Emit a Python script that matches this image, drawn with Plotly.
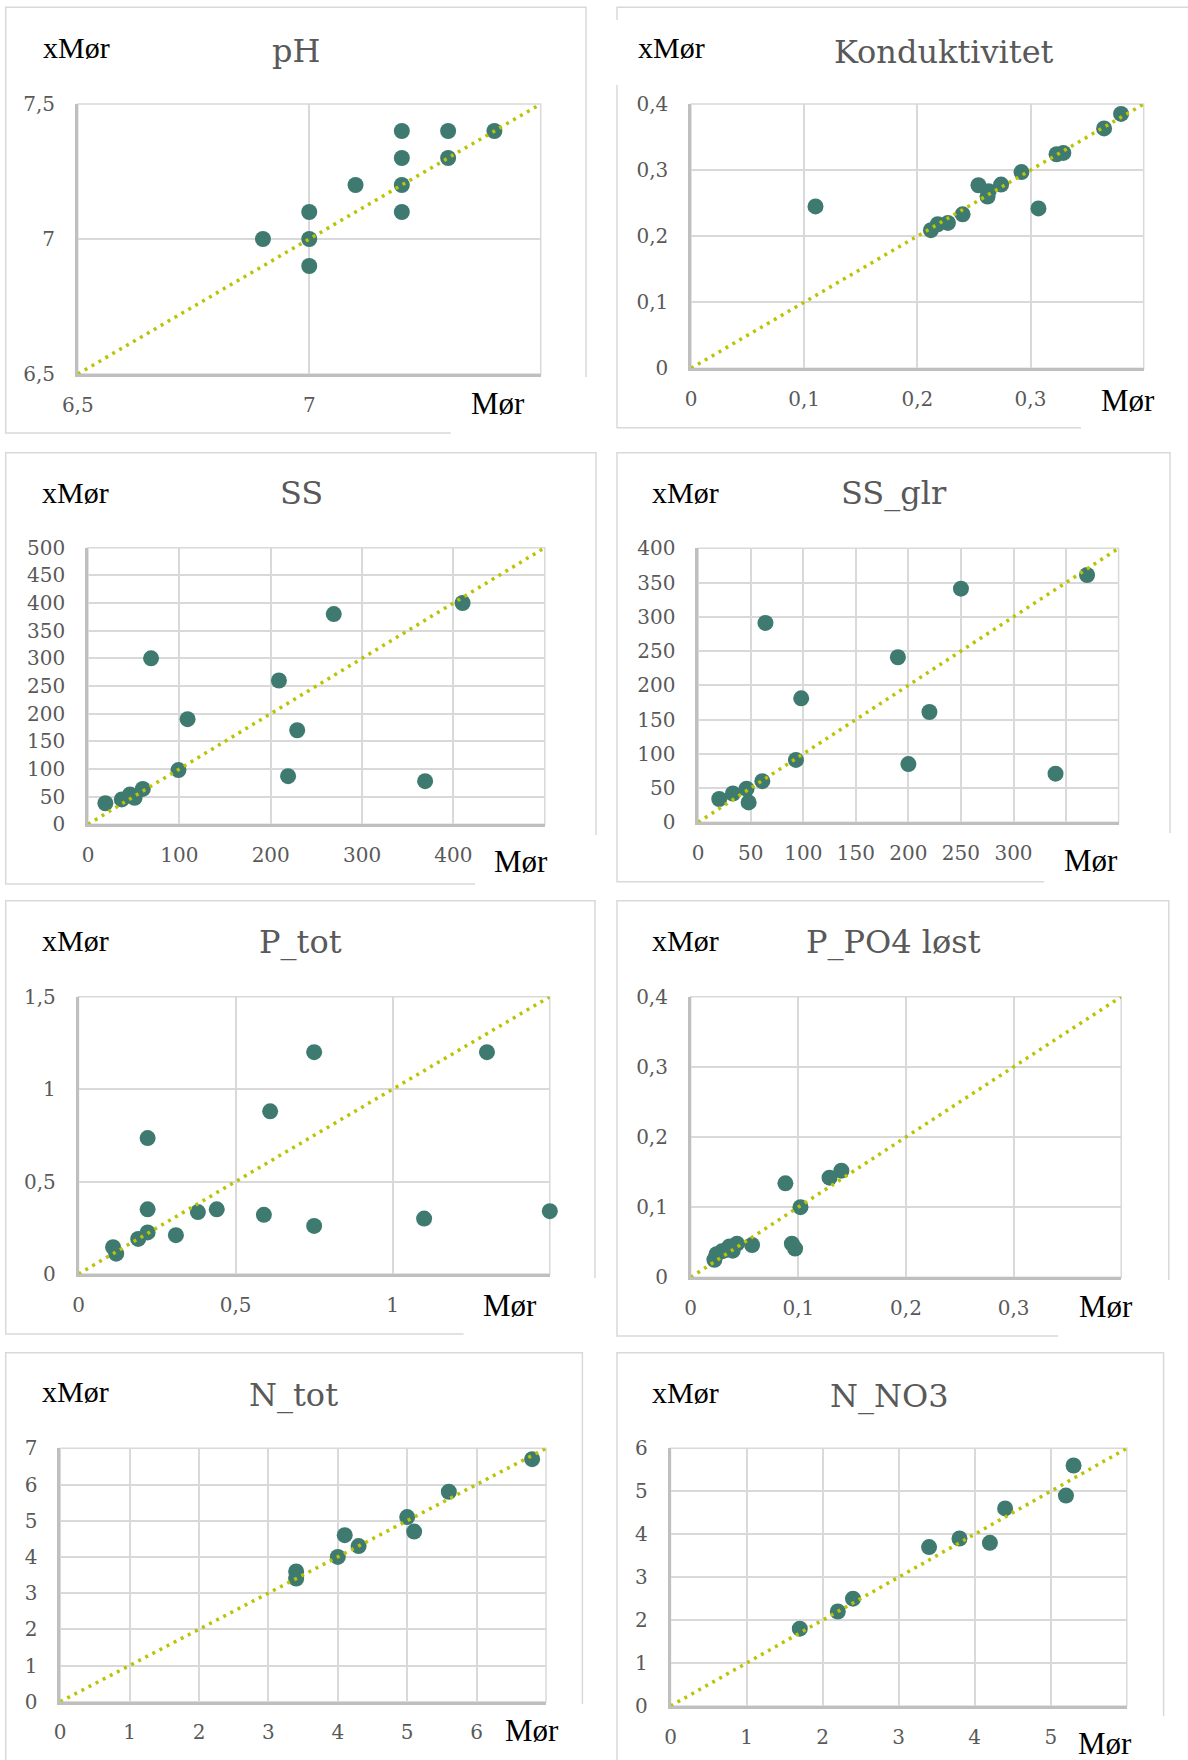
import plotly.graph_objects as go

W, H = 1188, 1760

# ---------------- data (Mør on x, xMør on y) ----------------
ph_mor = [6.9, 7.0, 7.0, 7.0, 7.1, 7.2, 7.2, 7.2, 7.2, 7.3, 7.3, 7.4]
ph_xmor = [7.0, 7.1, 7.0, 6.9, 7.2, 7.4, 7.3, 7.2, 7.1, 7.4, 7.3, 7.4]
ph_ticks = [6.5, 7.0, 7.5]

kond_mor = [0.110, 0.212, 0.218, 0.227, 0.240, 0.254, 0.262, 0.263, 0.274,
            0.292, 0.307, 0.323, 0.329, 0.365, 0.380]
kond_xmor = [0.245, 0.209, 0.218, 0.220, 0.233, 0.277, 0.260, 0.268, 0.278,
             0.297, 0.242, 0.324, 0.326, 0.363, 0.385]
kond_ticks = [0, 0.1, 0.2, 0.3, 0.4]

ss_mor = [19, 37, 46, 51, 60, 69, 99, 109, 209, 219, 229, 269, 369, 410]
ss_xmor = [38, 45, 54, 48, 64, 300, 98, 190, 260, 87, 170, 380, 78, 400]
ss_xticks = [0, 100, 200, 300, 400, 500]
ss_yticks = [0, 50, 100, 150, 200, 250, 300, 350, 400, 450, 500]

ssg_mor = [20, 33, 46, 48, 61, 64, 93, 98, 190, 200, 220, 250, 340, 370]
ssg_xmor = [34, 42, 49, 29, 60, 291, 91, 181, 241, 85, 161, 341, 71, 361]
ssg_ticks = [0, 50, 100, 150, 200, 250, 300, 350, 400]

ptot_mor = [0.11, 0.12, 0.19, 0.22, 0.22, 0.22, 0.31, 0.38, 0.44, 0.59,
            0.61, 0.75, 0.75, 1.10, 1.30, 1.50]
ptot_xmor = [0.145, 0.11, 0.19, 0.225, 0.35, 0.735, 0.21, 0.335, 0.35, 0.32,
             0.88, 1.20, 0.26, 0.30, 1.20, 0.34]
ptot_ticks = [0, 0.5, 1.0, 1.5]

po4_mor = [0.022, 0.024, 0.029, 0.033, 0.036, 0.039, 0.043, 0.057, 0.088,
           0.094, 0.097, 0.102, 0.129, 0.140]
po4_xmor = [0.025, 0.033, 0.037, 0.039, 0.044, 0.038, 0.048, 0.046, 0.134,
            0.048, 0.041, 0.100, 0.142, 0.152]
po4_ticks = [0, 0.1, 0.2, 0.3, 0.4]

ntot_mor = [3.4, 3.4, 4.0, 4.1, 4.3, 5.0, 5.1, 5.6, 6.8]
ntot_xmor = [3.6, 3.4, 4.0, 4.6, 4.3, 5.1, 4.7, 5.8, 6.7]
ntot_ticks = [0, 1, 2, 3, 4, 5, 6, 7]

nno3_mor = [1.7, 2.2, 2.4, 3.4, 3.8, 4.2, 4.4, 5.2, 5.3]
nno3_xmor = [1.8, 2.2, 2.5, 3.7, 3.9, 3.8, 4.6, 4.9, 5.6]
nno3_ticks = [0, 1, 2, 3, 4, 5, 6]

titles = ["pH", "Konduktivitet", "SS", "SS_glr", "P_tot", "P_PO4 løst", "N_tot", "N_NO3"]
x_label = "Mør"
y_label = "xMør"

# ---------------- layout geometry (pixels) ----------------
panels = [
    dict(x=ph_mor, y=ph_xmor, xt=ph_ticks, yt=ph_ticks, hide=1,
         plot=(77.8, 104, 540.7, 374), border=(5.7, 7.3, 586, 433), cover=(450.7, 377),
         tpos=(295.6, 51), ypos=(76, 47.5), xpos=(497.5, 403)),
    dict(x=kond_mor, y=kond_xmor, xt=kond_ticks, yt=kond_ticks, hide=1,
         plot=(691, 104, 1143.7, 368.3), border=(617, 7.3, 1195, 427.7), cover=(1081, 390),
         tpos=(944, 51.7), ypos=(671, 47.5), xpos=(1128, 400)),
    dict(x=ss_mor, y=ss_xmor, xt=ss_xticks, yt=ss_yticks, hide=1,
         plot=(88, 547.7, 544.8, 824.3), border=(5.7, 452.7, 596, 884), cover=(475, 835),
         tpos=(301.5, 493), ypos=(75.5, 492), xpos=(521, 861)),
    dict(x=ssg_mor, y=ssg_xmor, xt=ssg_ticks, yt=ssg_ticks, hide=2,
         plot=(698.2, 548.3, 1118.6, 822.3), border=(617, 452.7, 1170, 881.7), cover=(1044, 833),
         tpos=(893.7, 493), ypos=(685, 492), xpos=(1091, 860.7)),
    dict(x=ptot_mor, y=ptot_xmor, xt=ptot_ticks, yt=ptot_ticks, hide=1,
         plot=(78.5, 996.7, 549.8, 1274), border=(5.7, 900.7, 595, 1334), cover=(463.6, 1278),
         tpos=(300.8, 942), ypos=(75.5, 940), xpos=(509.6, 1305)),
    dict(x=po4_mor, y=po4_xmor, xt=po4_ticks, yt=po4_ticks, hide=1,
         plot=(690.7, 996.7, 1121.2, 1277.3), border=(617, 900.7, 1168.8, 1336), cover=(1058, 1280),
         tpos=(893, 942), ypos=(685, 940), xpos=(1105.7, 1306)),
    dict(x=ntot_mor, y=ntot_xmor, xt=ntot_ticks, yt=ntot_ticks, hide=1,
         plot=(60.2, 1448.3, 546, 1701.7), border=(5.7, 1352.7, 582.4, 1775), cover=(470, 1704),
         tpos=(293.6, 1394.7), ypos=(75.5, 1391.7), xpos=(532, 1730.7)),
    dict(x=nno3_mor, y=nno3_xmor, xt=nno3_ticks, yt=nno3_ticks, hide=1,
         plot=(670.5, 1448.3, 1126.8, 1706), border=(617, 1352.7, 1163.6, 1775), cover=(1050, 1716),
         tpos=(889.6, 1395.8), ypos=(685, 1392), xpos=(1105, 1743.3)),
]

POINT = "#3E7A70"
DIAG = "#BAC400"
GRID = "#D9D9D9"
AXLINE = "#BFBFBF"
TXT = "#595959"
SERIF = "DejaVu Serif"
LABEL_FONT = "Liberation Serif"


def fx(px):
    return px / W


def fy(py):
    return 1 - py / H


def fmt(v):
    return ("%g" % v).replace(".", ",")


fig = go.Figure()
shapes = []
annotations = []
layout_axes = {}

for i, p in enumerate(panels):
    n = i + 1
    xa = "x" if n == 1 else f"x{n}"
    ya = "y" if n == 1 else f"y{n}"
    xkey = "xaxis" if n == 1 else f"xaxis{n}"
    ykey = "yaxis" if n == 1 else f"yaxis{n}"
    x0, y0, x1, y1 = p["plot"]
    xr = [p["xt"][0], p["xt"][-1]]
    yr = [p["yt"][0], p["yt"][-1]]

    # plot-area frame (top/right edges look like gridlines)
    shapes.append(dict(type="rect", xref=f"{xa} domain", yref=f"{ya} domain", layer="below",
                       x0=0, x1=1, y0=0, y1=1, line=dict(color=GRID, width=1.5),
                       fillcolor="rgba(0,0,0,0)"))

    fig.add_trace(go.Scatter(
        x=p["x"], y=p["y"], mode="markers", xaxis=xa, yaxis=ya,
        marker=dict(size=16, color=POINT, line=dict(width=0)),
        cliponaxis=False, showlegend=False, hoverinfo="x+y"))
    fig.add_trace(go.Scatter(
        x=xr, y=yr, mode="lines", xaxis=xa, yaxis=ya,
        line=dict(color=DIAG, width=3.5, dash="3px,5px"),
        showlegend=False, hoverinfo="skip"))

    k = p["hide"]
    xtext = [fmt(v) for v in p["xt"][:-k]] + [""] * k
    ytext = [fmt(v) for v in p["yt"]]
    layout_axes[xkey] = dict(
        domain=[fx(x0), fx(x1)], anchor=ya, range=xr, automargin=False,
        tickmode="array", tickvals=p["xt"], ticktext=xtext,
        showgrid=True, gridcolor=GRID, gridwidth=1.5,
        showline=True, linecolor=AXLINE, linewidth=2.5,
        zeroline=False, ticks="", ticklabelstandoff=11,
        tickfont=dict(family=SERIF, size=20, color=TXT), fixedrange=True)
    layout_axes[ykey] = dict(
        domain=[fy(y1), fy(y0)], anchor=xa, range=yr, automargin=False,
        tickmode="array", tickvals=p["yt"], ticktext=ytext,
        showgrid=True, gridcolor=GRID, gridwidth=1.5,
        showline=True, linecolor=AXLINE, linewidth=2.5,
        zeroline=False, ticks="", ticklabelstandoff=16,
        tickfont=dict(family=SERIF, size=20, color=TXT), fixedrange=True)

    bx0, by0, bx1, by1 = p["border"]
    shapes.append(dict(type="rect", xref="paper", yref="paper", layer="below",
                       x0=fx(bx0), x1=fx(bx1), y0=fy(by1), y1=fy(by0),
                       line=dict(color=GRID, width=1.5), fillcolor="rgba(0,0,0,0)"))
    cx0, cy0 = p["cover"]
    shapes.append(dict(type="rect", xref="paper", yref="paper", layer="below",
                       x0=fx(cx0), x1=fx(bx1 + 4), y0=fy(by1 + 4), y1=fy(cy0),
                       line=dict(width=0), fillcolor="white"))

    annotations.append(dict(text=titles[i], xref="paper", yref="paper",
                            x=fx(p["tpos"][0]), y=fy(p["tpos"][1]),
                            xanchor="center", yanchor="middle", showarrow=False,
                            font=dict(family=SERIF, size=32, color=TXT)))
    annotations.append(dict(text=y_label, xref="paper", yref="paper",
                            x=fx(p["ypos"][0]), y=fy(p["ypos"][1]),
                            xanchor="center", yanchor="middle", showarrow=False,
                            font=dict(family=LABEL_FONT, size=30, color="black")))
    annotations.append(dict(text=x_label, xref="paper", yref="paper",
                            x=fx(p["xpos"][0]), y=fy(p["xpos"][1]),
                            xanchor="center", yanchor="middle", showarrow=False,
                            font=dict(family=LABEL_FONT, size=31, color="black")))

# white gap in Konduktivitet left border (label box)
shapes.append(dict(type="rect", xref="paper", yref="paper", layer="below",
                   x0=fx(614), x1=fx(620), y0=fy(85), y1=fy(20),
                   line=dict(width=0), fillcolor="white"))

fig.update_layout(
    width=W, height=H, autosize=False,
    margin=dict(l=0, r=0, t=0, b=0, pad=0, autoexpand=False),
    paper_bgcolor="white", plot_bgcolor="rgba(0,0,0,0)",
    shapes=shapes, annotations=annotations,
    showlegend=False, **layout_axes)

fig.write_html(
    "out.html",
    config={"displayModeBar": False, "responsive": False},
    post_script="document.body.style.margin='0';document.body.style.padding='0';"
                "document.documentElement.style.overflow='hidden';",
)
